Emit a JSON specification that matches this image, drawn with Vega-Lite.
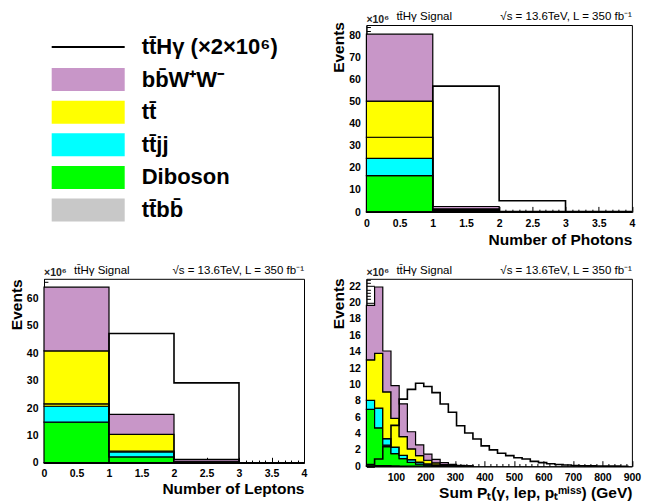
{
  "$schema": "https://vega.github.io/schema/vega-lite/v6.json",
  "padding": {"left": 8, "top": 10, "right": 5, "bottom": 5},
  "config": {
    "font": "Liberation Sans",
    "view": {"stroke": "black", "strokeWidth": 1},
    "axis": {
      "labelFont": "Liberation Sans", "labelFontWeight": "bold", "labelFontSize": 10.5, "labelColor": "black",
      "titleFont": "Liberation Sans", "titleFontWeight": "bold", "titleFontSize": 15.5, "titleColor": "black",
      "domainColor": "black", "domainWidth": 1, "tickColor": "black", "tickWidth": 1,
      "grid": false, "labelFlush": false, "labelOverlap": false, "labelBound": false
    }
  },
  "datasets": {
    "procs": [
      {"process": "ttbb", "layer": 1},
      {"process": "Diboson", "layer": 2},
      {"process": "ttjj", "layer": 3},
      {"process": "tt1", "layer": 4},
      {"process": "tt2", "layer": 5},
      {"process": "bbWW", "layer": 6}
    ],
    "legend": [
      {"label": "tt̄Hγ (×2×10⁶)", "process": "signal", "kind": "line"},
      {"label": "bb̄W⁺W⁻", "process": "bbWW", "kind": "fill"},
      {"label": "tt̄", "process": "tt2", "kind": "fill"},
      {"label": "tt̄jj", "process": "ttjj", "kind": "fill"},
      {"label": "Diboson", "process": "Diboson", "kind": "fill"},
      {"label": "tt̄bb̄", "process": "ttbb", "kind": "fill"}
    ],
    "notes": [
      {"note": "×10⁶", "pos": "exp"},
      {"note": "tt̄Hγ Signal", "pos": "left"},
      {"note": "√s = 13.6TeV, L = 350 fb⁻¹", "pos": "right"}
    ],
    "photons": [
      {"lo": 0, "hi": 1, "process": "ttbb", "value": 0.05},
      {"lo": 0, "hi": 1, "process": "Diboson", "value": 16.4},
      {"lo": 0, "hi": 1, "process": "ttjj", "value": 7.8},
      {"lo": 0, "hi": 1, "process": "tt1", "value": 9.6},
      {"lo": 0, "hi": 1, "process": "tt2", "value": 16.4},
      {"lo": 0, "hi": 1, "process": "bbWW", "value": 30.3},
      {"lo": 1, "hi": 2, "process": "ttbb", "value": 0.1},
      {"lo": 1, "hi": 2, "process": "Diboson", "value": 0.4},
      {"lo": 1, "hi": 2, "process": "ttjj", "value": 0.2},
      {"lo": 1, "hi": 2, "process": "tt1", "value": 0.3},
      {"lo": 1, "hi": 2, "process": "tt2", "value": 0.4},
      {"lo": 1, "hi": 2, "process": "bbWW", "value": 1.1},
      {"lo": 2, "hi": 3, "process": "ttbb", "value": 0.02},
      {"lo": 2, "hi": 3, "process": "Diboson", "value": 0.05},
      {"lo": 2, "hi": 3, "process": "ttjj", "value": 0.02},
      {"lo": 2, "hi": 3, "process": "tt1", "value": 0.03},
      {"lo": 2, "hi": 3, "process": "tt2", "value": 0.05},
      {"lo": 2, "hi": 3, "process": "bbWW", "value": 0.1},
      {"lo": 3, "hi": 4, "process": "ttbb", "value": 0},
      {"lo": 3, "hi": 4, "process": "Diboson", "value": 0},
      {"lo": 3, "hi": 4, "process": "ttjj", "value": 0},
      {"lo": 3, "hi": 4, "process": "tt1", "value": 0},
      {"lo": 3, "hi": 4, "process": "tt2", "value": 0},
      {"lo": 3, "hi": 4, "process": "bbWW", "value": 0},
      {"lo": 0, "hi": 1, "process": "signal", "value": 0},
      {"lo": 1, "hi": 2, "process": "signal", "value": 57.0},
      {"lo": 2, "hi": 3, "process": "signal", "value": 5.1},
      {"lo": 3, "hi": 4, "process": "signal", "value": 0.2}
    ],
    "leptons": [
      {"lo": 0, "hi": 1, "process": "ttbb", "value": 0.05},
      {"lo": 0, "hi": 1, "process": "Diboson", "value": 14.8},
      {"lo": 0, "hi": 1, "process": "ttjj", "value": 5.8},
      {"lo": 0, "hi": 1, "process": "tt1", "value": 0.9},
      {"lo": 0, "hi": 1, "process": "tt2", "value": 19.3},
      {"lo": 0, "hi": 1, "process": "bbWW", "value": 23.3},
      {"lo": 1, "hi": 2, "process": "ttbb", "value": 0.05},
      {"lo": 1, "hi": 2, "process": "Diboson", "value": 2.1},
      {"lo": 1, "hi": 2, "process": "ttjj", "value": 1.8},
      {"lo": 1, "hi": 2, "process": "tt1", "value": 0.3},
      {"lo": 1, "hi": 2, "process": "tt2", "value": 6.1},
      {"lo": 1, "hi": 2, "process": "bbWW", "value": 7.3},
      {"lo": 2, "hi": 3, "process": "ttbb", "value": 0.02},
      {"lo": 2, "hi": 3, "process": "Diboson", "value": 0.1},
      {"lo": 2, "hi": 3, "process": "ttjj", "value": 0.1},
      {"lo": 2, "hi": 3, "process": "tt1", "value": 0.05},
      {"lo": 2, "hi": 3, "process": "tt2", "value": 0.3},
      {"lo": 2, "hi": 3, "process": "bbWW", "value": 0.65},
      {"lo": 3, "hi": 4, "process": "ttbb", "value": 0},
      {"lo": 3, "hi": 4, "process": "Diboson", "value": 0},
      {"lo": 3, "hi": 4, "process": "ttjj", "value": 0},
      {"lo": 3, "hi": 4, "process": "tt1", "value": 0},
      {"lo": 3, "hi": 4, "process": "tt2", "value": 0},
      {"lo": 3, "hi": 4, "process": "bbWW", "value": 0},
      {"lo": 0, "hi": 1, "process": "signal", "value": 0},
      {"lo": 1, "hi": 2, "process": "signal", "value": 47.2},
      {"lo": 2, "hi": 3, "process": "signal", "value": 29.2},
      {"lo": 3, "hi": 4, "process": "signal", "value": 0}
    ],
    "sumpt": [
      {"lo": 0, "hi": 27.78, "process": "ttbb", "value": 0.05},
      {"lo": 27.78, "hi": 55.56, "process": "ttbb", "value": 0.1},
      {"lo": 55.56, "hi": 83.33, "process": "ttbb", "value": 0.08},
      {"lo": 83.33, "hi": 111.11, "process": "ttbb", "value": 0.05},
      {"lo": 111.11, "hi": 138.89, "process": "ttbb", "value": 0.03},
      {"lo": 138.89, "hi": 166.67, "process": "ttbb", "value": 0.02},
      {"lo": 166.67, "hi": 194.44, "process": "ttbb", "value": 0.01},
      {"lo": 194.44, "hi": 222.22, "process": "ttbb", "value": 0.01},
      {"lo": 222.22, "hi": 250, "process": "ttbb", "value": 0},
      {"lo": 250, "hi": 277.78, "process": "ttbb", "value": 0},
      {"lo": 277.78, "hi": 305.56, "process": "ttbb", "value": 0},
      {"lo": 305.56, "hi": 333.33, "process": "ttbb", "value": 0},
      {"lo": 333.33, "hi": 361.11, "process": "ttbb", "value": 0},
      {"lo": 0, "hi": 27.78, "process": "Diboson", "value": 6.9},
      {"lo": 27.78, "hi": 55.56, "process": "Diboson", "value": 4.6},
      {"lo": 55.56, "hi": 83.33, "process": "Diboson", "value": 2.5},
      {"lo": 83.33, "hi": 111.11, "process": "Diboson", "value": 1.5},
      {"lo": 111.11, "hi": 138.89, "process": "Diboson", "value": 0.9},
      {"lo": 138.89, "hi": 166.67, "process": "Diboson", "value": 0.45},
      {"lo": 166.67, "hi": 194.44, "process": "Diboson", "value": 0.25},
      {"lo": 194.44, "hi": 222.22, "process": "Diboson", "value": 0.12},
      {"lo": 222.22, "hi": 250, "process": "Diboson", "value": 0.07},
      {"lo": 250, "hi": 277.78, "process": "Diboson", "value": 0.04},
      {"lo": 277.78, "hi": 305.56, "process": "Diboson", "value": 0.02},
      {"lo": 305.56, "hi": 333.33, "process": "Diboson", "value": 0.01},
      {"lo": 333.33, "hi": 361.11, "process": "Diboson", "value": 0.01},
      {"lo": 0, "hi": 27.78, "process": "ttjj", "value": 1.1},
      {"lo": 27.78, "hi": 55.56, "process": "ttjj", "value": 2.4},
      {"lo": 55.56, "hi": 83.33, "process": "ttjj", "value": 0.8},
      {"lo": 83.33, "hi": 111.11, "process": "ttjj", "value": 0.8},
      {"lo": 111.11, "hi": 138.89, "process": "ttjj", "value": 0.4},
      {"lo": 138.89, "hi": 166.67, "process": "ttjj", "value": 0.35},
      {"lo": 166.67, "hi": 194.44, "process": "ttjj", "value": 0.25},
      {"lo": 194.44, "hi": 222.22, "process": "ttjj", "value": 0.16},
      {"lo": 222.22, "hi": 250, "process": "ttjj", "value": 0.1},
      {"lo": 250, "hi": 277.78, "process": "ttjj", "value": 0.05},
      {"lo": 277.78, "hi": 305.56, "process": "ttjj", "value": 0.03},
      {"lo": 305.56, "hi": 333.33, "process": "ttjj", "value": 0.02},
      {"lo": 333.33, "hi": 361.11, "process": "ttjj", "value": 0.01},
      {"lo": 0, "hi": 27.78, "process": "tt1", "value": 0},
      {"lo": 27.78, "hi": 55.56, "process": "tt1", "value": 0},
      {"lo": 55.56, "hi": 83.33, "process": "tt1", "value": 0},
      {"lo": 83.33, "hi": 111.11, "process": "tt1", "value": 0},
      {"lo": 111.11, "hi": 138.89, "process": "tt1", "value": 0},
      {"lo": 138.89, "hi": 166.67, "process": "tt1", "value": 0},
      {"lo": 166.67, "hi": 194.44, "process": "tt1", "value": 0},
      {"lo": 194.44, "hi": 222.22, "process": "tt1", "value": 0},
      {"lo": 222.22, "hi": 250, "process": "tt1", "value": 0},
      {"lo": 250, "hi": 277.78, "process": "tt1", "value": 0},
      {"lo": 277.78, "hi": 305.56, "process": "tt1", "value": 0},
      {"lo": 305.56, "hi": 333.33, "process": "tt1", "value": 0},
      {"lo": 333.33, "hi": 361.11, "process": "tt1", "value": 0},
      {"lo": 0, "hi": 27.78, "process": "tt2", "value": 4.95},
      {"lo": 27.78, "hi": 55.56, "process": "tt2", "value": 6.7},
      {"lo": 55.56, "hi": 83.33, "process": "tt2", "value": 5.7},
      {"lo": 83.33, "hi": 111.11, "process": "tt2", "value": 3.5},
      {"lo": 111.11, "hi": 138.89, "process": "tt2", "value": 2.3},
      {"lo": 138.89, "hi": 166.67, "process": "tt2", "value": 1.3},
      {"lo": 166.67, "hi": 194.44, "process": "tt2", "value": 0.8},
      {"lo": 194.44, "hi": 222.22, "process": "tt2", "value": 0.45},
      {"lo": 222.22, "hi": 250, "process": "tt2", "value": 0.25},
      {"lo": 250, "hi": 277.78, "process": "tt2", "value": 0.13},
      {"lo": 277.78, "hi": 305.56, "process": "tt2", "value": 0.07},
      {"lo": 305.56, "hi": 333.33, "process": "tt2", "value": 0.03},
      {"lo": 333.33, "hi": 361.11, "process": "tt2", "value": 0.01},
      {"lo": 0, "hi": 27.78, "process": "bbWW", "value": 6.65},
      {"lo": 27.78, "hi": 55.56, "process": "bbWW", "value": 8.1},
      {"lo": 55.56, "hi": 83.33, "process": "bbWW", "value": 5.0},
      {"lo": 83.33, "hi": 111.11, "process": "bbWW", "value": 4.0},
      {"lo": 111.11, "hi": 138.89, "process": "bbWW", "value": 4.0},
      {"lo": 138.89, "hi": 166.67, "process": "bbWW", "value": 2.1},
      {"lo": 166.67, "hi": 194.44, "process": "bbWW", "value": 1.3},
      {"lo": 194.44, "hi": 222.22, "process": "bbWW", "value": 0.75},
      {"lo": 222.22, "hi": 250, "process": "bbWW", "value": 0.43},
      {"lo": 250, "hi": 277.78, "process": "bbWW", "value": 0.23},
      {"lo": 277.78, "hi": 305.56, "process": "bbWW", "value": 0.13},
      {"lo": 305.56, "hi": 333.33, "process": "bbWW", "value": 0.07},
      {"lo": 333.33, "hi": 361.11, "process": "bbWW", "value": 0.04},
      {"lo": 0, "hi": 27.78, "process": "signal", "value": 0.2},
      {"lo": 27.78, "hi": 55.56, "process": "signal", "value": 0.9},
      {"lo": 55.56, "hi": 83.33, "process": "signal", "value": 2.4},
      {"lo": 83.33, "hi": 111.11, "process": "signal", "value": 5.0},
      {"lo": 111.11, "hi": 138.89, "process": "signal", "value": 8.2},
      {"lo": 138.89, "hi": 166.67, "process": "signal", "value": 9.4},
      {"lo": 166.67, "hi": 194.44, "process": "signal", "value": 10.15},
      {"lo": 194.44, "hi": 222.22, "process": "signal", "value": 9.75},
      {"lo": 222.22, "hi": 250, "process": "signal", "value": 9.0},
      {"lo": 250, "hi": 277.78, "process": "signal", "value": 7.6},
      {"lo": 277.78, "hi": 305.56, "process": "signal", "value": 6.6},
      {"lo": 305.56, "hi": 333.33, "process": "signal", "value": 4.95},
      {"lo": 333.33, "hi": 361.11, "process": "signal", "value": 4.06},
      {"lo": 361.11, "hi": 388.89, "process": "signal", "value": 3.33},
      {"lo": 388.89, "hi": 416.67, "process": "signal", "value": 2.5},
      {"lo": 416.67, "hi": 444.44, "process": "signal", "value": 2.0},
      {"lo": 444.44, "hi": 472.22, "process": "signal", "value": 1.6},
      {"lo": 472.22, "hi": 500, "process": "signal", "value": 1.3},
      {"lo": 500, "hi": 527.78, "process": "signal", "value": 1.05},
      {"lo": 527.78, "hi": 555.56, "process": "signal", "value": 0.9},
      {"lo": 555.56, "hi": 583.33, "process": "signal", "value": 0.6},
      {"lo": 583.33, "hi": 611.11, "process": "signal", "value": 0.45},
      {"lo": 611.11, "hi": 638.89, "process": "signal", "value": 0.32},
      {"lo": 638.89, "hi": 666.67, "process": "signal", "value": 0.22},
      {"lo": 666.67, "hi": 694.44, "process": "signal", "value": 0.15},
      {"lo": 694.44, "hi": 722.22, "process": "signal", "value": 0.1},
      {"lo": 722.22, "hi": 750, "process": "signal", "value": 0.07},
      {"lo": 750, "hi": 777.78, "process": "signal", "value": 0.05},
      {"lo": 777.78, "hi": 805.56, "process": "signal", "value": 0.03},
      {"lo": 805.56, "hi": 833.33, "process": "signal", "value": 0.02},
      {"lo": 833.33, "hi": 861.11, "process": "signal", "value": 0.02},
      {"lo": 861.11, "hi": 888.89, "process": "signal", "value": 0.01}
    ]
  },
  "columns": 2,
  "spacing": {"row": 66.8, "column": 62.4},
  "bounds": "flush",
  "center": true,
  "resolve": {"scale": {"x": "independent", "y": "independent"}},
  "concat": [
    {
      "width": 260, "height": 187,
      "view": {"stroke": null},
      "data": {"name": "legend"},
      "layer": [
        {
          "transform": [{"filter": "datum.kind == 'fill'"}],
          "mark": {"type": "bar", "height": {"band": 0.705}},
          "encoding": {
            "y": {"field": "label", "type": "nominal", "axis": null, "scale": {"domain": ["tt̄Hγ (×2×10⁶)", "bb̄W⁺W⁻", "tt̄", "tt̄jj", "Diboson", "tt̄bb̄"], "range": [5.7, 201.3], "paddingInner": 0, "paddingOuter": 0}},
            "x": {"datum": 7.7, "type": "quantitative", "axis": null, "scale": {"domain": [0, 260]}},
            "x2": {"datum": 80.7},
            "color": {"field": "process", "type": "nominal", "legend": null, "scale": {"domain": ["ttbb", "Diboson", "ttjj", "tt1", "tt2", "bbWW"], "range": ["#c8c8c8", "#00ff00", "#00ffff", "#ffff00", "#ffff00", "#c896c8"]}}
          }
        },
        {
          "transform": [{"filter": "datum.kind == 'line'"}],
          "mark": {"type": "rule", "color": "black", "strokeWidth": 2.2},
          "encoding": {
            "y": {"field": "label", "type": "nominal"},
            "x": {"datum": 7.7, "type": "quantitative"},
            "x2": {"datum": 80.7}
          }
        },
        {
          "mark": {"type": "text", "align": "left", "baseline": "middle", "fontSize": 22, "fontWeight": "bold", "color": "black", "font": "Liberation Sans"},
          "encoding": {
            "y": {"field": "label", "type": "nominal"},
            "x": {"datum": 97.7, "type": "quantitative"},
            "text": {"field": "label"}
          }
        }
      ]
    },
    {
      "width": 265.5, "height": 187,
      "resolve": {"axis": {"x": "independent", "y": "independent"}},
      "layer": [
        {
          "data": {"name": "photons"},
          "transform": [
            {"filter": "datum.process != 'signal'"},
            {"lookup": "process", "from": {"data": {"name": "procs"}, "key": "process", "fields": ["layer"]}},
            {"stack": "value", "groupby": ["lo"], "sort": [{"field": "layer", "order": "ascending"}], "as": ["v0", "v1"]},
            {"fold": ["lo", "hi"], "as": ["side", "edge"]}
          ],
          "mark": {"type": "area", "stroke": "black", "strokeWidth": 1.2, "strokeJoin": "miter"},
          "encoding": {
            "x": {"field": "edge", "type": "quantitative", "scale": {"domain": [0, 4], "nice": false, "zero": false},
              "axis": {"title": "Number of Photons", "titleAnchor": "end", "titleY": 32, "titleBaseline": "alphabetic",
                "values": [0,0.1,0.2,0.3,0.4,0.5,0.6,0.7,0.8,0.9,1,1.1,1.2,1.3,1.4,1.5,1.6,1.7,1.8,1.9,2,2.1,2.2,2.3,2.4,2.5,2.6,2.7,2.8,2.9,3,3.1,3.2,3.3,3.4,3.5,3.6,3.7,3.8,3.9,4],
                "labelExpr": "abs(datum.value*2-round(datum.value*2)) < 0.001 ? '' + datum.value : ''",
                "tickSize": {"condition": {"test": "abs(datum.value*2-round(datum.value*2)) < 0.001", "value": -5.6}, "value": -2.8},
                "labelPadding": 11.6}},
            "y": {"field": "v1", "type": "quantitative", "scale": {"domain": [0, 84.7], "nice": false},
              "axis": {"title": "Events", "titleAnchor": "end", "titleAlign": "right", "titleAngle": -90, "titleX": -27.7, "titleY": -3.5, "titleBaseline": "middle",
                "values": [0,2,4,6,8,10,12,14,16,18,20,22,24,26,28,30,32,34,36,38,40,42,44,46,48,50,52,54,56,58,60,62,64,66,68,70,72,74,76,78,80,82,84],
                "labelExpr": "datum.value % 10 == 0 ? '' + datum.value : ''",
                "tickSize": {"condition": {"test": "datum.value % 10 == 0", "value": -8}, "value": -4},
                "labelPadding": 14}},
            "y2": {"field": "v0"},
            "color": {"field": "process", "type": "nominal", "legend": null, "scale": {"domain": ["ttbb", "Diboson", "ttjj", "tt1", "tt2", "bbWW"], "range": ["#c8c8c8", "#00ff00", "#00ffff", "#ffff00", "#ffff00", "#c896c8"]}},
            "order": [{"field": "lo", "type": "quantitative"}, {"field": "edge", "type": "quantitative"}]
          }
        },
        {
          "data": {"name": "photons"},
          "transform": [
            {"filter": "datum.process == 'signal'"},
            {"stack": "value", "groupby": ["lo"], "as": ["v0", "v1"]},
            {"fold": ["lo", "hi"], "as": ["side", "edge"]}
          ],
          "mark": {"type": "line", "color": "black", "strokeWidth": 1.6, "strokeJoin": "miter"},
          "encoding": {
            "x": {"field": "edge", "type": "quantitative", "axis": null},
            "y": {"field": "v1", "type": "quantitative", "axis": null},
            "order": [{"field": "lo", "type": "quantitative"}, {"field": "edge", "type": "quantitative"}]
          }
        },
        {
          "data": {"name": "notes"},
          "transform": [{"filter": "datum.pos == 'exp'"}],
          "mark": {"type": "text", "align": "left", "baseline": "alphabetic", "dy": -2.5, "fontSize": 10.5, "fontWeight": "bold", "color": "#222"},
          "encoding": {"x": {"datum": 0, "type": "quantitative", "axis": null}, "y": {"datum": 84.7, "type": "quantitative", "axis": null}, "text": {"field": "note", "type": "nominal"}}
        },
        {
          "data": {"name": "notes"},
          "transform": [{"filter": "datum.pos == 'left'"}],
          "mark": {"type": "text", "align": "left", "baseline": "alphabetic", "dx": 30, "dy": -5, "fontSize": 11.5, "color": "black"},
          "encoding": {"x": {"datum": 0, "type": "quantitative", "axis": null}, "y": {"datum": 84.7, "type": "quantitative", "axis": null}, "text": {"field": "note", "type": "nominal"}}
        },
        {
          "data": {"name": "notes"},
          "transform": [{"filter": "datum.pos == 'right'"}],
          "mark": {"type": "text", "align": "right", "baseline": "alphabetic", "dy": -5, "fontSize": 11.5, "color": "black"},
          "encoding": {"x": {"datum": 4, "type": "quantitative", "axis": null}, "y": {"datum": 84.7, "type": "quantitative", "axis": null}, "text": {"field": "note", "type": "nominal"}}
        }
      ]
    },
    {
      "width": 260, "height": 184,
      "resolve": {"axis": {"x": "independent", "y": "independent"}},
      "layer": [
        {
          "data": {"name": "leptons"},
          "transform": [
            {"filter": "datum.process != 'signal'"},
            {"lookup": "process", "from": {"data": {"name": "procs"}, "key": "process", "fields": ["layer"]}},
            {"stack": "value", "groupby": ["lo"], "sort": [{"field": "layer", "order": "ascending"}], "as": ["v0", "v1"]},
            {"fold": ["lo", "hi"], "as": ["side", "edge"]}
          ],
          "mark": {"type": "area", "stroke": "black", "strokeWidth": 1.2, "strokeJoin": "miter"},
          "encoding": {
            "x": {"field": "edge", "type": "quantitative", "scale": {"domain": [0, 4], "nice": false, "zero": false},
              "axis": {"title": "Number of Leptons", "titleAnchor": "end", "titleY": 31, "titleBaseline": "alphabetic",
                "values": [0,0.1,0.2,0.3,0.4,0.5,0.6,0.7,0.8,0.9,1,1.1,1.2,1.3,1.4,1.5,1.6,1.7,1.8,1.9,2,2.1,2.2,2.3,2.4,2.5,2.6,2.7,2.8,2.9,3,3.1,3.2,3.3,3.4,3.5,3.6,3.7,3.8,3.9,4],
                "labelExpr": "abs(datum.value*2-round(datum.value*2)) < 0.001 ? '' + datum.value : ''",
                "tickSize": {"condition": {"test": "abs(datum.value*2-round(datum.value*2)) < 0.001", "value": -5.5}, "value": -2.75},
                "labelPadding": 11.5}},
            "y": {"field": "v1", "type": "quantitative", "scale": {"domain": [0, 67.2], "nice": false},
              "axis": {"title": "Events", "titleAnchor": "end", "titleAlign": "right", "titleAngle": -90, "titleX": -27.6, "titleY": 0, "titleBaseline": "middle",
                "values": [0,2,4,6,8,10,12,14,16,18,20,22,24,26,28,30,32,34,36,38,40,42,44,46,48,50,52,54,56,58,60,62,64,66],
                "labelExpr": "datum.value % 10 == 0 ? '' + datum.value : ''",
                "tickSize": {"condition": {"test": "datum.value % 10 == 0", "value": -7.8}, "value": -3.9},
                "labelPadding": 13.8}},
            "y2": {"field": "v0"},
            "color": {"field": "process", "type": "nominal", "legend": null, "scale": {"domain": ["ttbb", "Diboson", "ttjj", "tt1", "tt2", "bbWW"], "range": ["#c8c8c8", "#00ff00", "#00ffff", "#ffff00", "#ffff00", "#c896c8"]}},
            "order": [{"field": "lo", "type": "quantitative"}, {"field": "edge", "type": "quantitative"}]
          }
        },
        {
          "data": {"name": "leptons"},
          "transform": [
            {"filter": "datum.process == 'signal'"},
            {"stack": "value", "groupby": ["lo"], "as": ["v0", "v1"]},
            {"fold": ["lo", "hi"], "as": ["side", "edge"]}
          ],
          "mark": {"type": "line", "color": "black", "strokeWidth": 1.6, "strokeJoin": "miter"},
          "encoding": {
            "x": {"field": "edge", "type": "quantitative", "axis": null},
            "y": {"field": "v1", "type": "quantitative", "axis": null},
            "order": [{"field": "lo", "type": "quantitative"}, {"field": "edge", "type": "quantitative"}]
          }
        },
        {
          "data": {"name": "notes"},
          "transform": [{"filter": "datum.pos == 'exp'"}],
          "mark": {"type": "text", "align": "left", "baseline": "alphabetic", "dy": -2.5, "fontSize": 10.5, "fontWeight": "bold", "color": "#222"},
          "encoding": {"x": {"datum": 0, "type": "quantitative", "axis": null}, "y": {"datum": 67.2, "type": "quantitative", "axis": null}, "text": {"field": "note", "type": "nominal"}}
        },
        {
          "data": {"name": "notes"},
          "transform": [{"filter": "datum.pos == 'left'"}],
          "mark": {"type": "text", "align": "left", "baseline": "alphabetic", "dx": 30, "dy": -5, "fontSize": 11.5, "color": "black"},
          "encoding": {"x": {"datum": 0, "type": "quantitative", "axis": null}, "y": {"datum": 67.2, "type": "quantitative", "axis": null}, "text": {"field": "note", "type": "nominal"}}
        },
        {
          "data": {"name": "notes"},
          "transform": [{"filter": "datum.pos == 'right'"}],
          "mark": {"type": "text", "align": "right", "baseline": "alphabetic", "dy": -5, "fontSize": 11.5, "color": "black"},
          "encoding": {"x": {"datum": 4, "type": "quantitative", "axis": null}, "y": {"datum": 67.2, "type": "quantitative", "axis": null}, "text": {"field": "note", "type": "nominal"}}
        }
      ]
    },
    {
      "width": 265.5, "height": 187.5,
      "resolve": {"axis": {"x": "independent", "y": "independent"}},
      "layer": [
        {
          "data": {"name": "sumpt"},
          "transform": [
            {"filter": "datum.process != 'signal'"},
            {"lookup": "process", "from": {"data": {"name": "procs"}, "key": "process", "fields": ["layer"]}},
            {"stack": "value", "groupby": ["lo"], "sort": [{"field": "layer", "order": "ascending"}], "as": ["v0", "v1"]},
            {"fold": ["lo", "hi"], "as": ["side", "edge"]}
          ],
          "mark": {"type": "area", "stroke": "black", "strokeWidth": 1.2, "strokeJoin": "miter"},
          "encoding": {
            "x": {"field": "edge", "type": "quantitative", "scale": {"domain": [0, 900], "nice": false, "zero": false},
              "axis": {"title": "Sum Pₜ(γ, lep, pₜᵐⁱˢˢ) (GeV)", "titleAnchor": "end", "titleY": 31.5, "titleBaseline": "alphabetic",
                "values": [0,20,40,60,80,100,120,140,160,180,200,220,240,260,280,300,320,340,360,380,400,420,440,460,480,500,520,540,560,580,600,620,640,660,680,700,720,740,760,780,800,820,840,860,880,900],
                "labelExpr": "datum.value % 100 == 0 && datum.value > 0 ? '' + datum.value : ''",
                "tickSize": {"condition": {"test": "datum.value % 100 == 0", "value": -5.6}, "value": -2.8},
                "labelPadding": 11.6}},
            "y": {"field": "v1", "type": "quantitative", "scale": {"domain": [0, 22.9], "nice": false},
              "axis": {"title": "Events", "titleAnchor": "end", "titleAlign": "right", "titleAngle": -90, "titleX": -27.7, "titleY": -1, "titleBaseline": "middle",
                "values": [0,0.4,0.8,1.2,1.6,2,2.4,2.8,3.2,3.6,4,4.4,4.8,5.2,5.6,6,6.4,6.8,7.2,7.6,8,8.4,8.8,9.2,9.6,10,10.4,10.8,11.2,11.6,12,12.4,12.8,13.2,13.6,14,14.4,14.8,15.2,15.6,16,16.4,16.8,17.2,17.6,18,18.4,18.8,19.2,19.6,20,20.4,20.8,21.2,21.6,22,22.4,22.8],
                "labelExpr": "abs(datum.value/2-round(datum.value/2)) < 0.001 ? '' + datum.value : ''",
                "tickSize": {"condition": {"test": "abs(datum.value/2-round(datum.value/2)) < 0.001", "value": -8}, "value": -4},
                "labelPadding": 14}},
            "y2": {"field": "v0"},
            "color": {"field": "process", "type": "nominal", "legend": null, "scale": {"domain": ["ttbb", "Diboson", "ttjj", "tt1", "tt2", "bbWW"], "range": ["#c8c8c8", "#00ff00", "#00ffff", "#ffff00", "#ffff00", "#c896c8"]}},
            "order": [{"field": "lo", "type": "quantitative"}, {"field": "edge", "type": "quantitative"}]
          }
        },
        {
          "data": {"name": "sumpt"},
          "transform": [
            {"filter": "datum.process == 'signal'"},
            {"stack": "value", "groupby": ["lo"], "as": ["v0", "v1"]},
            {"fold": ["lo", "hi"], "as": ["side", "edge"]}
          ],
          "mark": {"type": "line", "color": "black", "strokeWidth": 1.6, "strokeJoin": "miter"},
          "encoding": {
            "x": {"field": "edge", "type": "quantitative", "axis": null},
            "y": {"field": "v1", "type": "quantitative", "axis": null},
            "order": [{"field": "lo", "type": "quantitative"}, {"field": "edge", "type": "quantitative"}]
          }
        },
        {
          "data": {"name": "notes"},
          "transform": [{"filter": "datum.pos == 'exp'"}],
          "mark": {"type": "text", "align": "left", "baseline": "alphabetic", "dy": -2.5, "fontSize": 10.5, "fontWeight": "bold", "color": "#222"},
          "encoding": {"x": {"datum": 0, "type": "quantitative", "axis": null}, "y": {"datum": 22.9, "type": "quantitative", "axis": null}, "text": {"field": "note", "type": "nominal"}}
        },
        {
          "data": {"name": "notes"},
          "transform": [{"filter": "datum.pos == 'left'"}],
          "mark": {"type": "text", "align": "left", "baseline": "alphabetic", "dx": 30, "dy": -5, "fontSize": 11.5, "color": "black"},
          "encoding": {"x": {"datum": 0, "type": "quantitative", "axis": null}, "y": {"datum": 22.9, "type": "quantitative", "axis": null}, "text": {"field": "note", "type": "nominal"}}
        },
        {
          "data": {"name": "notes"},
          "transform": [{"filter": "datum.pos == 'right'"}],
          "mark": {"type": "text", "align": "right", "baseline": "alphabetic", "dy": -5, "fontSize": 11.5, "color": "black"},
          "encoding": {"x": {"datum": 900, "type": "quantitative", "axis": null}, "y": {"datum": 22.9, "type": "quantitative", "axis": null}, "text": {"field": "note", "type": "nominal"}}
        }
      ]
    }
  ]
}
